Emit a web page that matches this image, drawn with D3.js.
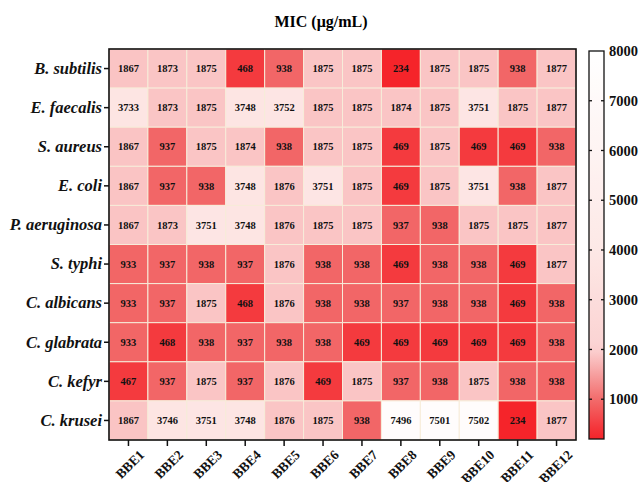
<!DOCTYPE html>
<html><head><meta charset="utf-8">
<script src="https://cdn.jsdelivr.net/npm/d3@7"></script>
<style>body{margin:0;background:#fff}svg{display:block}</style>
</head><body>
<svg id="chart" width="642" height="482"></svg>
<script>
const compounds = ["BBE1","BBE2","BBE3","BBE4","BBE5","BBE6","BBE7","BBE8","BBE9","BBE10","BBE11","BBE12"];
const organisms = ["B. subtilis","E. faecalis","S. aureus","E. coli","P. aeruginosa","S. typhi","C. albicans","C. glabrata","C. kefyr","C. krusei"];
const micBsubtilis   = [1867,1873,1875,468,938,1875,1875,234,1875,1875,938,1877];
const micEfaecalis   = [3733,1873,1875,3748,3752,1875,1875,1874,1875,3751,1875,1877];
const micSaureus     = [1867,937,1875,1874,938,1875,1875,469,1875,469,469,938];
const micEcoli       = [1867,937,938,3748,1876,3751,1875,469,1875,3751,938,1877];
const micPaeruginosa = [1867,1873,3751,3748,1876,1875,1875,937,938,1875,1875,1877];
const micStyphi      = [933,937,938,937,1876,938,938,469,938,938,469,1877];
const micCalbicans   = [933,937,1875,468,1876,938,938,937,938,938,469,938];
const micCglabrata   = [933,468,938,937,938,938,469,469,469,469,469,938];
const micCkefyr      = [467,937,1875,937,1876,469,1875,937,938,1875,938,938];
const micCkrusei     = [1867,3746,3751,3748,1876,1875,938,7496,7501,7502,234,1877];
const colorbarTicks = [1000,2000,3000,4000,5000,6000,7000,8000];
const title = "MIC (μg/mL)";

const rows = [micBsubtilis,micEfaecalis,micSaureus,micEcoli,micPaeruginosa,micStyphi,micCalbicans,micCglabrata,micCkefyr,micCkrusei];
const cells = [];
rows.forEach((r,i)=>r.forEach((v,j)=>cells.push({org:organisms[i],cmp:compounds[j],v})));

const svg = d3.select("#chart");
const font = "'Liberation Serif','Times New Roman',serif";
const L=109, R=576, T=49, B=440;

const x = d3.scaleBand().domain(compounds).range([L,R]);
const y = d3.scaleBand().domain(organisms).range([T,B]);
const color = d3.scaleLinear()
  .domain([234,1000,2000,4000,8000])
  .range(["#f5242a","#f26c6c","#fbd2d2","#fde8e6","#ffffff"])
  .clamp(true);

svg.append("text").attr("x",321).attr("y",27).attr("text-anchor","middle")
  .attr("font-family",font).attr("font-weight","bold").attr("font-size",16).text(title);

svg.append("g").selectAll("rect").data(cells).join("rect")
  .attr("x",d=>x(d.cmp)).attr("y",d=>y(d.org))
  .attr("width",x.bandwidth()).attr("height",y.bandwidth())
  .attr("fill",d=>color(d.v)).attr("stroke","#f7ecd9").attr("stroke-width",1);

svg.append("g").selectAll("text").data(cells).join("text")
  .attr("x",d=>x(d.cmp)+x.bandwidth()/2).attr("y",d=>y(d.org)+y.bandwidth()/2)
  .attr("dy","0.35em").attr("text-anchor","middle")
  .attr("font-family",font).attr("font-weight","bold").attr("font-size",10.5)
  .attr("fill","#111").text(d=>d.v);

svg.append("rect").attr("x",L).attr("y",T).attr("width",R-L).attr("height",B-T)
  .attr("fill","none").attr("stroke","#111").attr("stroke-width",1.6);

// y axis
const yAxis = svg.append("g").attr("transform",`translate(${L},0)`)
  .call(d3.axisLeft(y).tickSize(5).tickPadding(2));
yAxis.select(".domain").remove();
yAxis.selectAll("line").attr("stroke","#111").attr("stroke-width",1.5);
yAxis.selectAll("text").attr("font-family",font).attr("font-weight","bold")
  .attr("font-style","italic").attr("font-size",16.5).attr("fill","#111");

// x axis
const xAxis = svg.append("g").attr("transform",`translate(0,${B})`)
  .call(d3.axisBottom(x).tickSize(6).tickPadding(2));
xAxis.select(".domain").remove();
xAxis.selectAll("line").attr("stroke","#111").attr("stroke-width",1.5);
xAxis.selectAll("text").attr("font-family",font).attr("font-weight","bold")
  .attr("font-size",13.5).attr("fill","#111")
  .attr("text-anchor","end").attr("dy",0)
  .attr("transform","translate(11,10) rotate(-45)");

// colorbar
const cbL=589, cbW=15, cbT=51, cbB=439;
const cScale = d3.scaleLinear().domain([200,8000]).range([cbB,cbT]);
const defs = svg.append("defs");
const grad = defs.append("linearGradient").attr("id","cbgrad")
  .attr("x1",0).attr("y1",1).attr("x2",0).attr("y2",0);
d3.range(0,41).forEach(k=>{
  const v = 200 + (8000-200)*k/40;
  grad.append("stop").attr("offset",k/40).attr("stop-color",color(v));
});
svg.append("rect").attr("x",cbL).attr("y",cbT).attr("width",cbW).attr("height",cbB-cbT)
  .attr("fill","url(#cbgrad)").attr("stroke","#111").attr("stroke-width",1.3);
const cb = svg.append("g");
cb.selectAll("line.l").data(colorbarTicks.filter(t=>t<8000)).join("line").attr("class","l")
  .attr("x1",cbL).attr("x2",cbL+3).attr("y1",d=>cScale(d)).attr("y2",d=>cScale(d))
  .attr("stroke","#111").attr("stroke-width",1.3);
cb.selectAll("line.r").data(colorbarTicks.filter(t=>t<8000)).join("line").attr("class","r")
  .attr("x1",cbL+cbW-3).attr("x2",cbL+cbW).attr("y1",d=>cScale(d)).attr("y2",d=>cScale(d))
  .attr("stroke","#111").attr("stroke-width",1.3);
cb.selectAll("text").data(colorbarTicks).join("text")
  .attr("x",cbL+cbW+5).attr("y",d=>cScale(d)).attr("dy","0.35em")
  .attr("font-family",font).attr("font-weight","bold").attr("font-size",14.5).attr("fill","#111")
  .text(d=>d);
</script>
</body></html>
